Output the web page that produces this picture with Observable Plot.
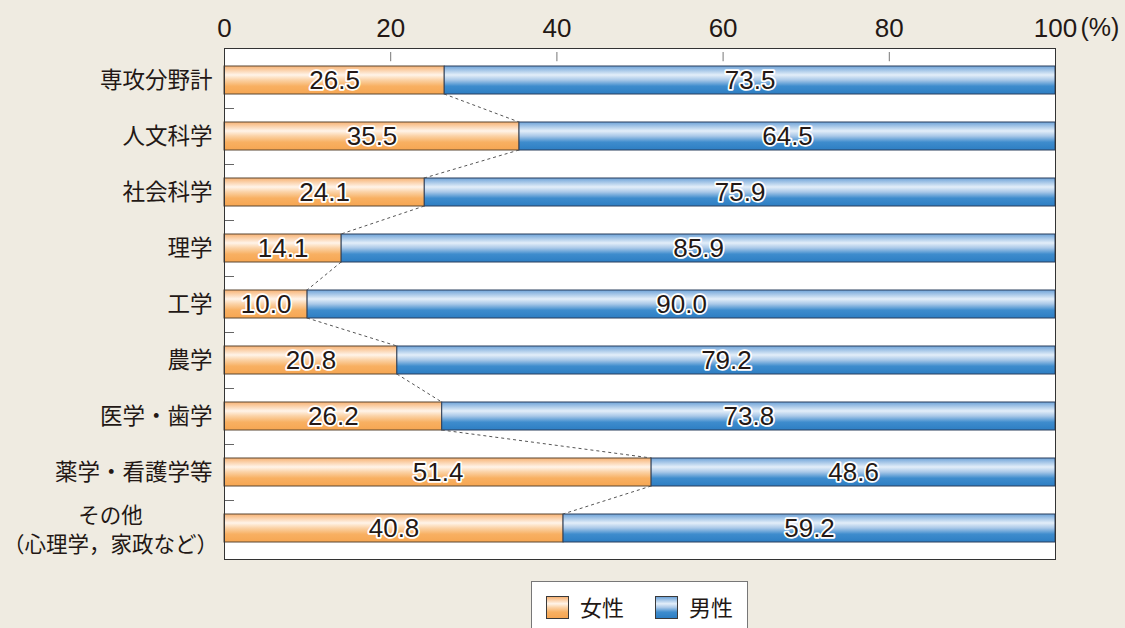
<!DOCTYPE html>
<html><head><meta charset="utf-8">
<script src="https://cdn.jsdelivr.net/npm/d3@7"></script>
<script src="https://cdn.jsdelivr.net/npm/@observablehq/plot@0.6"></script>
<style>
html,body{margin:0;padding:0;}
body{background:#efebe1;width:1125px;height:628px;overflow:hidden;position:relative;font-family:"Noto Sans CJK JP","Noto Sans",sans-serif;color:#231815;}
#chart{position:absolute;left:0;top:0;}
#legend{position:absolute;left:531px;top:581px;width:215px;height:60px;background:#fff;border:1px solid #777;box-sizing:content-box;}
#legend .sw{position:absolute;top:14px;width:21px;height:21px;border:1px solid #3a3a3a;}
#legend .lab{position:absolute;top:9px;font-size:22px;line-height:30px;}
#legend .f{background:linear-gradient(#f7b273 0%,#fff4e9 32%,#fbd2a6 50%,#f8b062 72%,#f6a652 100%);}
#legend .m{background:linear-gradient(#6ea3d8 0%,#e3eef9 32%,#a9c8e8 50%,#3e8ccd 72%,#2d7ec3 100%);}
</style></head><body>
<svg width="0" height="0" style="position:absolute">
<defs>
<linearGradient id="gF" x1="0" y1="0" x2="0" y2="1">
<stop offset="0" stop-color="#f7b273"/><stop offset="0.32" stop-color="#fff4e9"/><stop offset="0.5" stop-color="#fbd2a6"/><stop offset="0.72" stop-color="#f8b062"/><stop offset="1" stop-color="#f6a652"/>
</linearGradient>
<linearGradient id="gM" x1="0" y1="0" x2="0" y2="1">
<stop offset="0" stop-color="#6ea3d8"/><stop offset="0.32" stop-color="#e3eef9"/><stop offset="0.5" stop-color="#a9c8e8"/><stop offset="0.72" stop-color="#3e8ccd"/><stop offset="1" stop-color="#2d7ec3"/>
</linearGradient>
</defs></svg>
<div id="chart"></div>
<div id="legend">
<span class="sw f" style="left:14px"></span><span class="lab" style="left:48px">女性</span>
<span class="sw m" style="left:123px"></span><span class="lab" style="left:157px">男性</span>
</div>
<script>
const categories = ["専攻分野計","人文科学","社会科学","理学","工学","農学","医学・歯学","薬学・看護学等","その他\n（心理学，家政など）"];
const female = [26.5,35.5,24.1,14.1,10.0,20.8,26.2,51.4,40.8];
const male = [73.5,64.5,75.9,85.9,90.0,79.2,73.8,48.6,59.2];
const series = ["女性","男性"];
const xTicks = [0,20,40,60,80,100];
const unitLabel = "(%)";

const rows = [];
categories.forEach((c,i)=>{
  rows.push({cat:c, sex:series[0], x1:0, x2:female[i], v:female[i]});
  rows.push({cat:c, sex:series[1], x1:female[i], x2:female[i]+male[i], v:male[i]});
});
const femRows = rows.filter(d=>d.sex===series[0]);
const maleRows = rows.filter(d=>d.sex===series[1]);

const H = 575, MT = 48, MB = 16, INSET = 14;
const numFont = "'Liberation Sans', Arial, Helvetica, sans-serif";
const jpFont = "'Noto Sans CJK JP', sans-serif";

function bandOf(sy, dims){
  if (typeof sy.bandwidth === "function") return sy.bandwidth();
  return (dims.height - dims.marginTop - dims.marginBottom)/categories.length;
}

const boundaryTicks = (index, scales, values, dims) => {
  const sy = scales.y, sx = scales.x, bw = bandOf(sy, dims);
  const g = d3.create("svg:g").attr("stroke","#666").attr("stroke-width",1);
  categories.slice(0,-1).forEach(c=>{
    const y = Math.round(sy(c)+bw)+0.5;
    g.append("line").attr("x1",sx(0)).attr("x2",sx(0)+10).attr("y1",y).attr("y2",y);
  });
  return g.node();
};

const connectors = (index, scales, values, dims) => {
  const sy = scales.y, sx = scales.x, bw = bandOf(sy, dims);
  const g = d3.create("svg:g").attr("stroke","#555").attr("stroke-width",1).attr("stroke-dasharray","3,3").attr("fill","none");
  for (let i=0;i<categories.length-1;i++){
    g.append("line")
      .attr("x1",sx(female[i])).attr("y1",sy(categories[i])+bw-INSET)
      .attr("x2",sx(female[i+1])).attr("y2",sy(categories[i+1])+INSET);
  }
  return g.node();
};

const chart = Plot.plot({
  width:1125, height:H,
  marginTop:MT, marginBottom:MB, marginLeft:224, marginRight:70,
  style:{background:"transparent", color:"#231815", overflow:"visible"},
  x:{domain:[0,100], axis:null},
  y:{domain:categories, padding:0, axis:null},
  marks:[
    Plot.frame({fill:"white", stroke:"none"}),
    Plot.axisX(xTicks, {anchor:"top", tickSize:0, tickPadding:12, fontSize:26, fontFamily:numFont, fill:"#231815"}),
    Plot.text([unitLabel], {x:()=>100, frameAnchor:"top", lineAnchor:"middle", dy:-21, dx:25, textAnchor:"start", fontSize:25, fontFamily:numFont, fill:"#231815"}),
    Plot.tickX(xTicks.slice(1,-1), {x:d=>d, y:()=>categories[0], insetBottom:(H-MT-MB)/categories.length-10, stroke:"#777"}),
    boundaryTicks,
    Plot.barX(femRows, {x1:"x1", x2:"x2", y:"cat", fill:"url(#gF)", stroke:"#5a4632", strokeWidth:1, insetTop:INSET, insetBottom:INSET}),
    Plot.barX(maleRows, {x1:"x1", x2:"x2", y:"cat", fill:"url(#gM)", stroke:"#2b3f5c", strokeWidth:1, insetTop:INSET, insetBottom:INSET}),
    connectors,
    Plot.frame({stroke:"#333", strokeWidth:1}),
    Plot.text(rows, {x:d=>(d.x1+d.x2)/2, y:"cat", text:d=>d.v.toFixed(1), fontSize:26, fontFamily:numFont, fill:"#231815", stroke:"white", strokeWidth:3.5, strokeLinejoin:"round"}),
    Plot.text(categories.slice(0,-1), {y:d=>d, frameAnchor:"left", dx:-12, textAnchor:"end", fontSize:22.5, fontFamily:jpFont, fill:"#231815"}),
    Plot.text(categories.slice(-1), {y:d=>d, frameAnchor:"left", dx:-114, textAnchor:"middle", lineHeight:1.36, fontSize:21.5, fontFamily:jpFont, fill:"#231815"})
  ]
});
document.getElementById("chart").appendChild(chart);
</script>
</body></html>
